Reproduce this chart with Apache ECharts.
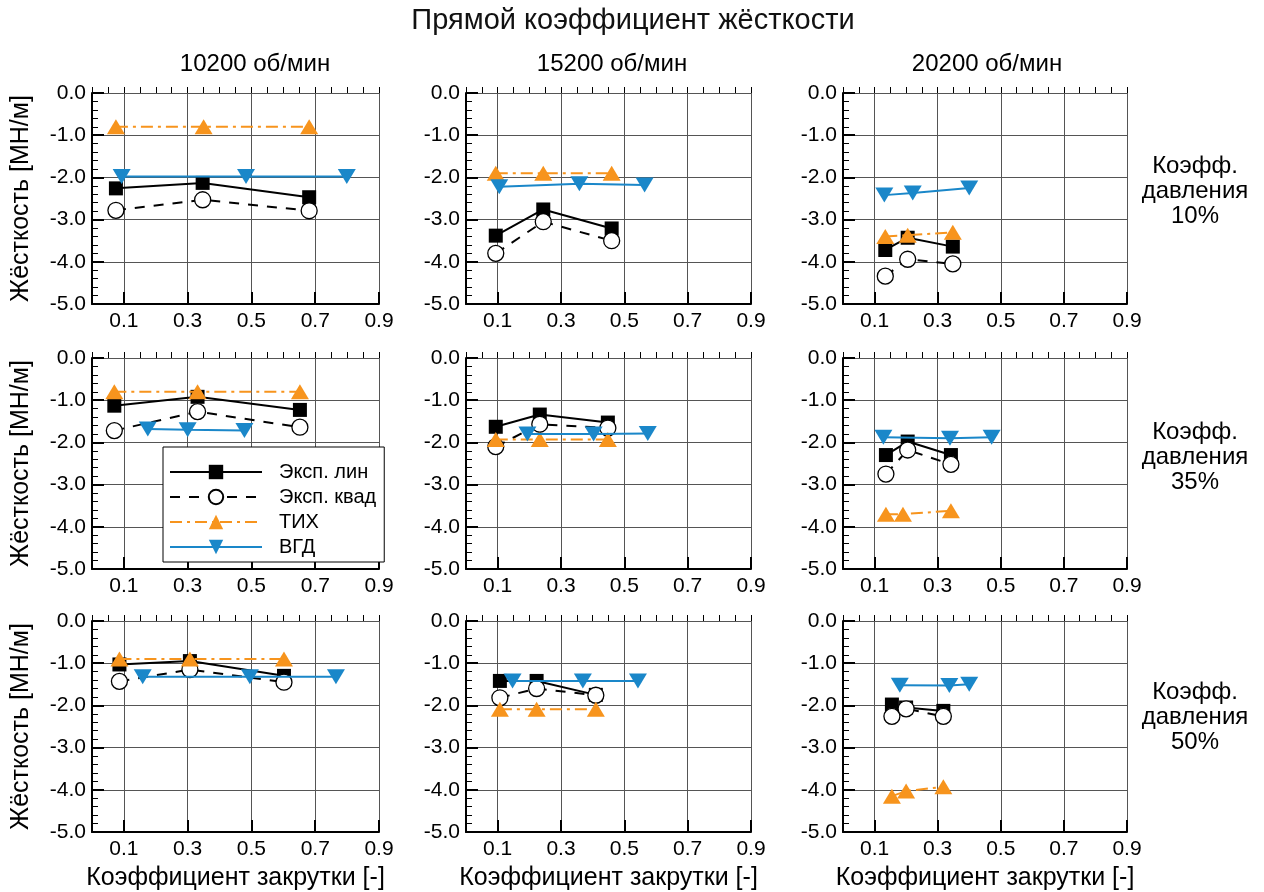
<!DOCTYPE html>
<html>
<head>
<meta charset="utf-8">
<script src="https://cdn.jsdelivr.net/npm/echarts@6/dist/echarts.min.js"></script>
<style>
  html, body { margin: 0; padding: 0; background: #fff; }
  #chart { width: 1264px; height: 892px; }
</style>
</head>
<body>
<div id="chart"></div>
<script>
const FONT = '"Liberation Sans", Arial, Helvetica, sans-serif';

const chartTitle = 'Прямой коэффициент жёсткости';
const speedLabels = ['10200 об/мин', '15200 об/мин', '20200 об/мин'];
const pressureLabels = ['10%', '35%', '50%'];
const seriesNames = ['Эксп. лин', 'Эксп. квад', 'ТИХ', 'ВГД'];
const xTickValues = [0.1, 0.3, 0.5, 0.7, 0.9];
const yAxisName = 'Жёсткость [МН/м]';
const xAxisName = 'Коэффициент закрутки [-]';

// Points [swirl coefficient, stiffness MN/m]; panels row by row:
// pressure 10 %, 35 %, 50 % x speed 10200, 15200, 20200 rpm
const expLin = [
  [[0.075, -2.26], [0.347, -2.13], [0.681, -2.47]],
  [[0.094, -3.38], [0.244, -2.76], [0.460, -3.21]],
  [[0.134, -3.72], [0.205, -3.43], [0.348, -3.64]],
  [[0.070, -1.13], [0.331, -0.92], [0.652, -1.23]],
  [[0.094, -1.63], [0.233, -1.34], [0.448, -1.53]],
  [[0.136, -2.30], [0.205, -1.98], [0.342, -2.30]],
  [[0.086, -1.03], [0.307, -0.95], [0.602, -1.30]],
  [[0.107, -1.42], [0.223, -1.42], [0.410, -1.75]],
  [[0.155, -1.98], [0.200, -2.05], [0.318, -2.13]]
];
const expQuad = [
  [[0.075, -2.78], [0.347, -2.53], [0.681, -2.79]],
  [[0.094, -3.80], [0.244, -3.05], [0.460, -3.50]],
  [[0.134, -4.34], [0.205, -3.94], [0.348, -4.05]],
  [[0.070, -1.72], [0.331, -1.27], [0.652, -1.64]],
  [[0.094, -2.10], [0.233, -1.57], [0.448, -1.66]],
  [[0.136, -2.75], [0.205, -2.18], [0.342, -2.52]],
  [[0.086, -1.43], [0.307, -1.15], [0.602, -1.45]],
  [[0.107, -1.82], [0.223, -1.60], [0.410, -1.76]],
  [[0.155, -2.26], [0.200, -2.08], [0.318, -2.26]]
];
const tikh = [
  [[0.075, -0.80], [0.350, -0.80], [0.681, -0.80]],
  [[0.094, -1.90], [0.244, -1.90], [0.460, -1.90]],
  [[0.134, -3.40], [0.205, -3.37], [0.348, -3.30]],
  [[0.070, -0.80], [0.331, -0.80], [0.652, -0.80]],
  [[0.094, -1.93], [0.233, -1.93], [0.448, -1.93]],
  [[0.136, -3.70], [0.190, -3.70], [0.342, -3.62]],
  [[0.086, -0.90], [0.307, -0.90], [0.602, -0.90]],
  [[0.107, -2.09], [0.223, -2.09], [0.410, -2.09]],
  [[0.155, -4.15], [0.200, -4.03], [0.318, -3.93]]
];
const vgd = [
  [[0.093, -1.98], [0.483, -1.98], [0.799, -1.98]],
  [[0.105, -2.22], [0.358, -2.15], [0.564, -2.18]],
  [[0.131, -2.42], [0.221, -2.37], [0.400, -2.25]],
  [[0.175, -1.68], [0.300, -1.70], [0.478, -1.72]],
  [[0.194, -1.80], [0.403, -1.80], [0.574, -1.79]],
  [[0.128, -1.88], [0.339, -1.90], [0.471, -1.88]],
  [[0.159, -1.32], [0.495, -1.32], [0.765, -1.32]],
  [[0.147, -1.42], [0.369, -1.42], [0.543, -1.42]],
  [[0.180, -1.52], [0.337, -1.53], [0.400, -1.50]]
];

// panel placement in pixels
const colLeft = [92, 466, 843];
const colWidth = [287, 285, 284];
const rowTop = [93, 358, 621];
const panelHeight = 211;

const ORANGE = '#f7941d';
const BLUE = '#1a87c9';
const GRID_GRAY = '#555555';

const seriesStyles = [
  { symbol: 'rect', symbolSize: 14, symbolRotate: 0,
    itemStyle: { color: '#000' },
    lineStyle: { color: '#000', width: 2, type: 'solid' } },
  { symbol: 'circle', symbolSize: 16, symbolRotate: 0,
    itemStyle: { color: '#fff', borderColor: '#000', borderWidth: 1.3 },
    lineStyle: { color: '#000', width: 2, type: [10, 9] } },
  { symbol: 'triangle', symbolSize: [18, 15], symbolRotate: 0,
    itemStyle: { color: ORANGE },
    lineStyle: { color: ORANGE, width: 2, type: [12, 5, 3, 5] } },
  { symbol: 'triangle', symbolSize: [18, 15], symbolRotate: 180,
    itemStyle: { color: BLUE },
    lineStyle: { color: BLUE, width: 2, type: 'solid' } }
];
const seriesData = [expLin, expQuad, tikh, vgd];

const grids = [], xAxes = [], yAxes = [], series = [];

for (let r = 0; r < 3; r++) {
  for (let c = 0; c < 3; c++) {
    const p = r * 3 + c;
    grids.push({ left: colLeft[c], top: rowTop[r], width: colWidth[c], height: panelHeight });

    // main x axis: labelled ticks, grid lines
    xAxes.push({
      type: 'value', gridIndex: p, position: 'bottom', min: 0, max: 0.9,
      name: r === 2 ? xAxisName : '', nameLocation: 'middle', nameGap: 34,
      nameTextStyle: { fontFamily: FONT, fontSize: 25, color: '#000' },
      axisLine: { show: true, onZero: false, lineStyle: { color: '#000', width: 2 } },
      axisTick: { show: true, inside: true, length: 12, customValues: xTickValues,
                  lineStyle: { color: '#000', width: 2 } },
      axisLabel: { show: true, customValues: xTickValues, margin: 7,
                   fontFamily: FONT, fontSize: 21, color: '#000',
                   formatter: v => v.toFixed(1) },
      splitLine: { show: true, lineStyle: { color: GRID_GRAY, width: 1 } }
    });
    // secondary x axis carrying the short ticks every 0.05
    xAxes.push({
      type: 'value', gridIndex: p, position: 'bottom', min: 0, max: 0.9, interval: 0.05,
      axisLine: { show: false },
      axisTick: { show: true, inside: true, length: 6, lineStyle: { color: '#000', width: 1 } },
      axisLabel: { show: false },
      splitLine: { show: false }
    });

    yAxes.push({
      type: 'value', gridIndex: p, min: -5, max: 0, interval: 1,
      name: c === 0 ? yAxisName : '', nameLocation: 'middle', nameGap: 58,
      nameTextStyle: { fontFamily: FONT, fontSize: 25, color: '#000' },
      axisLine: { show: true, onZero: false, lineStyle: { color: '#000', width: 2 } },
      axisTick: { show: true, inside: true, length: 12, lineStyle: { color: '#000', width: 2 } },
      minorTick: { show: true, splitNumber: 5, length: 6, lineStyle: { color: '#000', width: 1 } },
      axisLabel: { margin: 6, fontFamily: FONT, fontSize: 21, color: '#000',
                   formatter: v => v.toFixed(1) },
      splitLine: { show: true, lineStyle: { color: GRID_GRAY, width: 1 } }
    });

    for (let s = 0; s < 4; s++) {
      const st = seriesStyles[s];
      series.push({
        type: 'line', name: seriesNames[s],
        xAxisIndex: 2 * p, yAxisIndex: p,
        data: seriesData[s][p],
        symbol: st.symbol, symbolSize: st.symbolSize, symbolRotate: st.symbolRotate,
        showSymbol: true, showAllSymbol: true,
        itemStyle: st.itemStyle, lineStyle: st.lineStyle,
        z: 3 + s, clip: false, animation: false
      });
    }
  }
}

const graphics = [
  { type: 'text', x: 633, y: 21,
    style: { text: chartTitle, fontFamily: FONT, fontSize: 29, fill: '#111',
             align: 'center', verticalAlign: 'middle' } }
];
const colTitleX = [255, 612, 987];
speedLabels.forEach((t, c) => graphics.push({
  type: 'text', x: colTitleX[c], y: 64,
  style: { text: t, fontFamily: FONT, fontSize: 24, fill: '#000',
           align: 'center', verticalAlign: 'middle' }
}));
const rowLabelY = [191, 457, 717];
pressureLabels.forEach((t, r) => graphics.push({
  type: 'text', x: 1195, y: rowLabelY[r],
  style: { text: 'Коэфф.\nдавления\n' + t, fontFamily: FONT, fontSize: 24,
           lineHeight: 25, fill: '#000', align: 'center', verticalAlign: 'middle' }
}));

const chart = echarts.init(document.getElementById('chart'), null, { renderer: 'canvas' });
chart.setOption({
  animation: false,
  backgroundColor: '#fff',
  grid: grids,
  xAxis: xAxes,
  yAxis: yAxes,
  series: series,
  legend: {
    data: seriesNames,
    orient: 'vertical',
    left: 163, top: 447,
    padding: [15, 8, 5, 6],
    itemWidth: 92, itemHeight: 18, itemGap: 5,
    backgroundColor: '#fff', borderColor: '#000', borderWidth: 1,
    selectedMode: false,
    textStyle: { fontFamily: FONT, fontSize: 20, color: '#000', padding: [0, 0, 0, 12] }
  },
  graphic: graphics
});
</script>
</body>
</html>
